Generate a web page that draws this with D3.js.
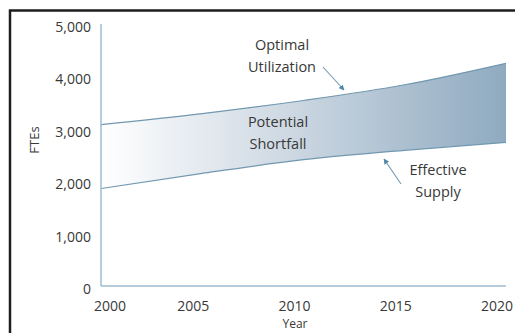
<!DOCTYPE html>
<html>
<head>
<meta charset="utf-8">
<script src="https://cdn.jsdelivr.net/npm/d3@7"></script>
<style>
  body { margin: 0; background: #fff; }
  text { font-family: "Open Sans", sans-serif; fill: #383838; }
</style>
</head>
<body>
<div class="chart"></div>
<script>
let width = 515
let height = 333

// values
const years = [2000, 2005, 2010, 2015, 2020]
const optimal = [3080, 3290, 3540, 3840, 4250]
const supply = [1860, 2150, 2410, 2590, 2740]
const yTicks = [0, 1000, 2000, 3000, 4000, 5000]
const xTicks = [2000, 2005, 2010, 2015, 2020]

const data = years.map((yr, i) => ({ year: yr, hi: optimal[i], lo: supply[i] }))

const svg = d3.select(".chart")
  .append("svg")
  .attr("width", width)
  .attr("height", height)

// outer frame (runs off right/bottom edge)
svg.append("rect")
  .attr("x", 10).attr("y", 10.5)
  .attr("width", 530).attr("height", 350)
  .attr("fill", "none")
  .attr("stroke", "#1e1e1e")
  .attr("stroke-width", 2.5)

const x = d3.scaleLinear()
  .domain([2000, 2020])
  .range([101, 506])
const y = d3.scaleLinear()
  .domain([0, 5000])
  .range([286, 24])

const defs = svg.append("defs")
const grad = defs.append("linearGradient")
  .attr("id", "band")
  .attr("gradientUnits", "userSpaceOnUse")
  .attr("x1", x(2000)).attr("x2", x(2020))
  .attr("y1", 0).attr("y2", 0)
grad.append("stop").attr("offset", "0%").attr("stop-color", "#ffffff")
grad.append("stop").attr("offset", "50%").attr("stop-color", "#c9d5e0")
grad.append("stop").attr("offset", "100%").attr("stop-color", "#8faac0")

defs.append("marker")
  .attr("id", "head")
  .attr("viewBox", "0 0 10 10")
  .attr("refX", 9).attr("refY", 5)
  .attr("markerWidth", 5).attr("markerHeight", 5)
  .attr("orient", "auto")
  .append("path")
  .attr("d", "M0,0 L10,5 L0,10 z")
  .attr("fill", "#4f87a6")

const area = d3.area()
  .x(d => x(d.year))
  .y0(d => y(d.lo))
  .y1(d => y(d.hi))
  .curve(d3.curveMonotoneX)

svg.append("path")
  .datum(data)
  .attr("d", area)
  .attr("fill", "url(#band)")

const lineHi = d3.line().x(d => x(d.year)).y(d => y(d.hi)).curve(d3.curveMonotoneX)
const lineLo = d3.line().x(d => x(d.year)).y(d => y(d.lo)).curve(d3.curveMonotoneX)

svg.append("path").datum(data).attr("d", lineHi)
  .attr("fill", "none").attr("stroke", "#7198b0").attr("stroke-width", 1.2)
svg.append("path").datum(data).attr("d", lineLo)
  .attr("fill", "none").attr("stroke", "#7198b0").attr("stroke-width", 1.2)

// axes
svg.append("line")
  .attr("x1", x(2000)).attr("x2", x(2000))
  .attr("y1", y(5000)).attr("y2", y(0))
  .attr("stroke", "#9fbdd0").attr("stroke-width", 1.5)
svg.append("line")
  .attr("x1", x(2000)).attr("x2", x(2020))
  .attr("y1", y(0)).attr("y2", y(0))
  .attr("stroke", "#9fbdd0").attr("stroke-width", 1.5)

svg.selectAll(".ytick")
  .data(yTicks)
  .enter()
  .append("text")
  .attr("x", 91)
  .attr("y", d => y(d) + 3)
  .attr("dy", "0.35em")
  .attr("text-anchor", "end")
  .style("font-size", "14px")
  .text(d => d3.format(",")(d))

svg.selectAll(".xtick")
  .data(xTicks)
  .enter()
  .append("text")
  .attr("x", d => x(d) + (d == 2000 ? 9 : -9))
  .attr("y", 311)
  .attr("text-anchor", "middle")
  .style("font-size", "14px")
  .text(d => d)

svg.append("text")
  .attr("transform", "translate(39,140) rotate(-90)")
  .attr("text-anchor", "middle")
  .style("font-size", "13px")
  .text("FTEs")

svg.append("text")
  .attr("x", 295).attr("y", 328)
  .attr("text-anchor", "middle")
  .style("font-size", "12px")
  .text("Year")

// annotations
const notes = [
  { lines: ["Optimal", "Utilization"], cx: 282, top: 45 },
  { lines: ["Potential", "Shortfall"], cx: 278, top: 122 },
  { lines: ["Effective", "Supply"], cx: 438, top: 170 }
]
notes.forEach(n => {
  svg.append("text")
    .attr("text-anchor", "middle")
    .style("font-size", "14.5px")
    .selectAll("tspan")
    .data(n.lines)
    .enter()
    .append("tspan")
    .attr("x", n.cx)
    .attr("y", (d, i) => n.top + i * 21.5)
    .attr("dy", "0.35em")
    .text(d => d)
})

const arrows = [
  { x1: 323, y1: 67, x2: 344, y2: 90 },
  { x1: 401, y1: 184, x2: 384, y2: 159 }
]
svg.selectAll(".arrow")
  .data(arrows)
  .enter()
  .append("line")
  .attr("x1", d => d.x1).attr("y1", d => d.y1)
  .attr("x2", d => d.x2).attr("y2", d => d.y2)
  .attr("stroke", "#6f9ab3")
  .attr("stroke-width", 1.1)
  .attr("marker-end", "url(#head)")
</script>
</body>
</html>
